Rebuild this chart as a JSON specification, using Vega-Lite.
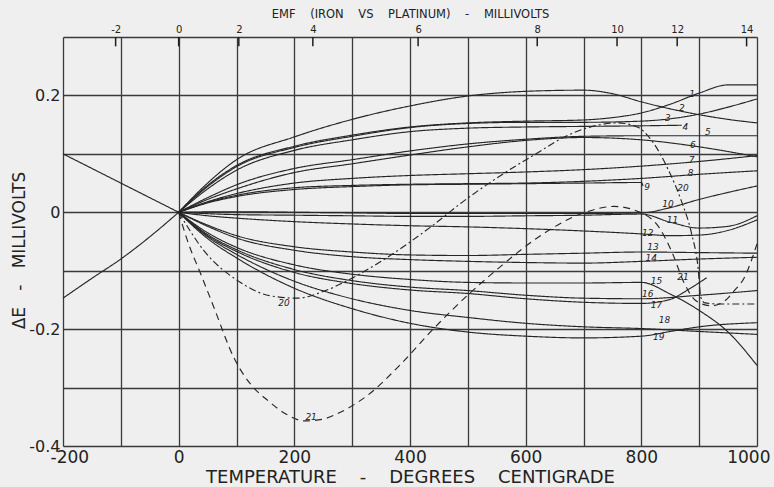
{
  "$schema": "https://vega.github.io/schema/vega-lite/v6.json",
  "width": 694,
  "height": 409,
  "autosize": {"type": "none"},
  "padding": {"left": 63, "top": 37, "right": 17, "bottom": 41},
  "background": "#efefef",
  "config": {"view": {"stroke": null}, "font": "DejaVu Sans"},
  "datasets": {
    "curves": [
      {"c":"L1","s":"solid","T":-200,"v":0.1},{"c":"L1","s":"solid","T":0,"v":0},
      {"c":"L2","s":"solid","T":-200,"v":-0.147},{"c":"L2","s":"solid","T":-150,"v":-0.113},{"c":"L2","s":"solid","T":-100,"v":-0.08},{"c":"L2","s":"solid","T":-50,"v":-0.042},{"c":"L2","s":"solid","T":0,"v":0},
      {"c":"1","s":"solid","T":0,"v":0},{"c":"1","s":"solid","T":50,"v":0.046},{"c":"1","s":"solid","T":100,"v":0.08},{"c":"1","s":"solid","T":200,"v":0.113},{"c":"1","s":"solid","T":300,"v":0.132},{"c":"1","s":"solid","T":400,"v":0.146},{"c":"1","s":"solid","T":500,"v":0.153},{"c":"1","s":"solid","T":600,"v":0.156},{"c":"1","s":"solid","T":700,"v":0.158},{"c":"1","s":"solid","T":750,"v":0.162},{"c":"1","s":"solid","T":800,"v":0.17},{"c":"1","s":"solid","T":850,"v":0.185},{"c":"1","s":"solid","T":900,"v":0.204},{"c":"1","s":"solid","T":950,"v":0.218},{"c":"1","s":"solid","T":1000,"v":0.218},
      {"c":"2","s":"solid","T":0,"v":0},{"c":"2","s":"solid","T":50,"v":0.05},{"c":"2","s":"solid","T":100,"v":0.09},{"c":"2","s":"solid","T":200,"v":0.129},{"c":"2","s":"solid","T":300,"v":0.159},{"c":"2","s":"solid","T":400,"v":0.182},{"c":"2","s":"solid","T":500,"v":0.199},{"c":"2","s":"solid","T":600,"v":0.207},{"c":"2","s":"solid","T":700,"v":0.209},{"c":"2","s":"solid","T":750,"v":0.203},{"c":"2","s":"solid","T":800,"v":0.189},{"c":"2","s":"solid","T":850,"v":0.177},{"c":"2","s":"solid","T":900,"v":0.167},{"c":"2","s":"solid","T":950,"v":0.159},{"c":"2","s":"solid","T":1000,"v":0.153},
      {"c":"3","s":"solid","T":0,"v":0},{"c":"3","s":"solid","T":50,"v":0.044},{"c":"3","s":"solid","T":100,"v":0.078},{"c":"3","s":"solid","T":200,"v":0.111},{"c":"3","s":"solid","T":300,"v":0.13},{"c":"3","s":"solid","T":400,"v":0.145},{"c":"3","s":"solid","T":500,"v":0.152},{"c":"3","s":"solid","T":600,"v":0.154},{"c":"3","s":"solid","T":700,"v":0.154},{"c":"3","s":"solid","T":800,"v":0.156},{"c":"3","s":"solid","T":850,"v":0.16},{"c":"3","s":"solid","T":900,"v":0.168},{"c":"3","s":"solid","T":950,"v":0.18},{"c":"3","s":"solid","T":1000,"v":0.194},
      {"c":"4","s":"solid","T":0,"v":0},{"c":"4","s":"solid","T":50,"v":0.04},{"c":"4","s":"solid","T":100,"v":0.072},{"c":"4","s":"solid","T":200,"v":0.106},{"c":"4","s":"solid","T":300,"v":0.124},{"c":"4","s":"solid","T":400,"v":0.138},{"c":"4","s":"solid","T":500,"v":0.144},{"c":"4","s":"solid","T":600,"v":0.146},{"c":"4","s":"solid","T":700,"v":0.147},{"c":"4","s":"solid","T":800,"v":0.148},{"c":"4","s":"solid","T":870,"v":0.149},
      {"c":"5","s":"solid","T":0,"v":0},{"c":"5","s":"solid","T":50,"v":0.025},{"c":"5","s":"solid","T":100,"v":0.047},{"c":"5","s":"solid","T":200,"v":0.075},{"c":"5","s":"solid","T":300,"v":0.09},{"c":"5","s":"solid","T":400,"v":0.105},{"c":"5","s":"solid","T":500,"v":0.117},{"c":"5","s":"solid","T":600,"v":0.125},{"c":"5","s":"solid","T":700,"v":0.13},{"c":"5","s":"solid","T":800,"v":0.131},{"c":"5","s":"solid","T":900,"v":0.131},{"c":"5","s":"solid","T":1000,"v":0.131},
      {"c":"6","s":"solid","T":0,"v":0},{"c":"6","s":"solid","T":50,"v":0.022},{"c":"6","s":"solid","T":100,"v":0.04},{"c":"6","s":"solid","T":200,"v":0.068},{"c":"6","s":"solid","T":300,"v":0.083},{"c":"6","s":"solid","T":400,"v":0.098},{"c":"6","s":"solid","T":500,"v":0.112},{"c":"6","s":"solid","T":600,"v":0.123},{"c":"6","s":"solid","T":700,"v":0.128},{"c":"6","s":"solid","T":750,"v":0.127},{"c":"6","s":"solid","T":800,"v":0.124},{"c":"6","s":"solid","T":900,"v":0.112},{"c":"6","s":"solid","T":1000,"v":0.095},
      {"c":"7","s":"solid","T":0,"v":0},{"c":"7","s":"solid","T":50,"v":0.018},{"c":"7","s":"solid","T":100,"v":0.032},{"c":"7","s":"solid","T":200,"v":0.05},{"c":"7","s":"solid","T":300,"v":0.058},{"c":"7","s":"solid","T":400,"v":0.063},{"c":"7","s":"solid","T":500,"v":0.066},{"c":"7","s":"solid","T":600,"v":0.069},{"c":"7","s":"solid","T":700,"v":0.073},{"c":"7","s":"solid","T":800,"v":0.079},{"c":"7","s":"solid","T":900,"v":0.087},{"c":"7","s":"solid","T":1000,"v":0.097},
      {"c":"8","s":"solid","T":0,"v":0},{"c":"8","s":"solid","T":50,"v":0.017},{"c":"8","s":"solid","T":100,"v":0.029},{"c":"8","s":"solid","T":200,"v":0.042},{"c":"8","s":"solid","T":300,"v":0.046},{"c":"8","s":"solid","T":400,"v":0.048},{"c":"8","s":"solid","T":500,"v":0.049},{"c":"8","s":"solid","T":600,"v":0.05},{"c":"8","s":"solid","T":700,"v":0.053},{"c":"8","s":"solid","T":800,"v":0.058},{"c":"8","s":"solid","T":900,"v":0.065},{"c":"8","s":"solid","T":1000,"v":0.071},
      {"c":"9","s":"solid","T":0,"v":0},{"c":"9","s":"solid","T":50,"v":0.016},{"c":"9","s":"solid","T":100,"v":0.027},{"c":"9","s":"solid","T":200,"v":0.039},{"c":"9","s":"solid","T":300,"v":0.044},{"c":"9","s":"solid","T":400,"v":0.047},{"c":"9","s":"solid","T":500,"v":0.048},{"c":"9","s":"solid","T":600,"v":0.049},{"c":"9","s":"solid","T":700,"v":0.05},{"c":"9","s":"solid","T":800,"v":0.051},{"c":"9","s":"solid","T":803,"v":0.045},
      {"c":"10","s":"solid","T":0,"v":0},{"c":"10","s":"solid","T":100,"v":0.001},{"c":"10","s":"solid","T":200,"v":0},{"c":"10","s":"solid","T":300,"v":-0.001},{"c":"10","s":"solid","T":400,"v":-0.002},{"c":"10","s":"solid","T":500,"v":-0.002},{"c":"10","s":"solid","T":600,"v":-0.002},{"c":"10","s":"solid","T":700,"v":-0.002},{"c":"10","s":"solid","T":800,"v":-0.001},{"c":"10","s":"solid","T":850,"v":0.008},{"c":"10","s":"solid","T":900,"v":0.022},{"c":"10","s":"solid","T":950,"v":0.034},{"c":"10","s":"solid","T":1000,"v":0.045},
      {"c":"11","s":"solid","T":0,"v":0},{"c":"11","s":"solid","T":100,"v":-0.004},{"c":"11","s":"solid","T":200,"v":-0.005},{"c":"11","s":"solid","T":300,"v":-0.006},{"c":"11","s":"solid","T":400,"v":-0.007},{"c":"11","s":"solid","T":500,"v":-0.007},{"c":"11","s":"solid","T":600,"v":-0.006},{"c":"11","s":"solid","T":700,"v":-0.005},{"c":"11","s":"solid","T":800,"v":-0.003},{"c":"11","s":"solid","T":850,"v":-0.017},{"c":"11","s":"solid","T":900,"v":-0.027},{"c":"11","s":"solid","T":950,"v":-0.024},{"c":"11","s":"solid","T":1000,"v":-0.006},
      {"c":"12","s":"solid","T":0,"v":0},{"c":"12","s":"solid","T":50,"v":-0.006},{"c":"12","s":"solid","T":100,"v":-0.01},{"c":"12","s":"solid","T":200,"v":-0.016},{"c":"12","s":"solid","T":300,"v":-0.02},{"c":"12","s":"solid","T":400,"v":-0.023},{"c":"12","s":"solid","T":500,"v":-0.025},{"c":"12","s":"solid","T":600,"v":-0.028},{"c":"12","s":"solid","T":700,"v":-0.032},{"c":"12","s":"solid","T":800,"v":-0.037},{"c":"12","s":"solid","T":850,"v":-0.04},{"c":"12","s":"solid","T":900,"v":-0.039},{"c":"12","s":"solid","T":950,"v":-0.031},{"c":"12","s":"solid","T":1000,"v":-0.013},
      {"c":"13","s":"solid","T":0,"v":0},{"c":"13","s":"solid","T":50,"v":-0.022},{"c":"13","s":"solid","T":100,"v":-0.04},{"c":"13","s":"solid","T":200,"v":-0.059},{"c":"13","s":"solid","T":300,"v":-0.068},{"c":"13","s":"solid","T":400,"v":-0.073},{"c":"13","s":"solid","T":500,"v":-0.074},{"c":"13","s":"solid","T":600,"v":-0.072},{"c":"13","s":"solid","T":700,"v":-0.07},{"c":"13","s":"solid","T":800,"v":-0.068},{"c":"13","s":"solid","T":900,"v":-0.069},{"c":"13","s":"solid","T":1000,"v":-0.07},
      {"c":"14","s":"solid","T":0,"v":0},{"c":"14","s":"solid","T":50,"v":-0.024},{"c":"14","s":"solid","T":100,"v":-0.044},{"c":"14","s":"solid","T":200,"v":-0.065},{"c":"14","s":"solid","T":300,"v":-0.076},{"c":"14","s":"solid","T":400,"v":-0.081},{"c":"14","s":"solid","T":500,"v":-0.084},{"c":"14","s":"solid","T":600,"v":-0.086},{"c":"14","s":"solid","T":700,"v":-0.087},{"c":"14","s":"solid","T":800,"v":-0.084},{"c":"14","s":"solid","T":900,"v":-0.08},{"c":"14","s":"solid","T":1000,"v":-0.077},
      {"c":"15","s":"solid","T":0,"v":0},{"c":"15","s":"solid","T":50,"v":-0.035},{"c":"15","s":"solid","T":100,"v":-0.06},{"c":"15","s":"solid","T":200,"v":-0.09},{"c":"15","s":"solid","T":300,"v":-0.106},{"c":"15","s":"solid","T":400,"v":-0.115},{"c":"15","s":"solid","T":500,"v":-0.12},{"c":"15","s":"solid","T":600,"v":-0.121},{"c":"15","s":"solid","T":700,"v":-0.121},{"c":"15","s":"solid","T":800,"v":-0.12},{"c":"15","s":"solid","T":850,"v":-0.14},{"c":"15","s":"solid","T":900,"v":-0.168},{"c":"15","s":"solid","T":950,"v":-0.205},{"c":"15","s":"solid","T":1000,"v":-0.262},
      {"c":"16","s":"solid","T":0,"v":0},{"c":"16","s":"solid","T":50,"v":-0.038},{"c":"16","s":"solid","T":100,"v":-0.064},{"c":"16","s":"solid","T":200,"v":-0.098},{"c":"16","s":"solid","T":300,"v":-0.117},{"c":"16","s":"solid","T":400,"v":-0.128},{"c":"16","s":"solid","T":500,"v":-0.134},{"c":"16","s":"solid","T":600,"v":-0.142},{"c":"16","s":"solid","T":700,"v":-0.147},{"c":"16","s":"solid","T":800,"v":-0.148},{"c":"16","s":"solid","T":900,"v":-0.142},{"c":"16","s":"solid","T":1000,"v":-0.134},
      {"c":"17","s":"solid","T":0,"v":0},{"c":"17","s":"solid","T":50,"v":-0.04},{"c":"17","s":"solid","T":100,"v":-0.067},{"c":"17","s":"solid","T":200,"v":-0.103},{"c":"17","s":"solid","T":300,"v":-0.122},{"c":"17","s":"solid","T":400,"v":-0.133},{"c":"17","s":"solid","T":500,"v":-0.139},{"c":"17","s":"solid","T":600,"v":-0.148},{"c":"17","s":"solid","T":700,"v":-0.154},{"c":"17","s":"solid","T":800,"v":-0.156},{"c":"17","s":"solid","T":850,"v":-0.149},{"c":"17","s":"solid","T":880,"v":-0.133},{"c":"17","s":"solid","T":913,"v":-0.112},
      {"c":"18","s":"solid","T":0,"v":0},{"c":"18","s":"solid","T":50,"v":-0.042},{"c":"18","s":"solid","T":100,"v":-0.072},{"c":"18","s":"solid","T":200,"v":-0.118},{"c":"18","s":"solid","T":300,"v":-0.148},{"c":"18","s":"solid","T":400,"v":-0.168},{"c":"18","s":"solid","T":500,"v":-0.18},{"c":"18","s":"solid","T":600,"v":-0.19},{"c":"18","s":"solid","T":700,"v":-0.196},{"c":"18","s":"solid","T":800,"v":-0.199},{"c":"18","s":"solid","T":900,"v":-0.204},{"c":"18","s":"solid","T":1000,"v":-0.209},
      {"c":"19","s":"solid","T":0,"v":0},{"c":"19","s":"solid","T":50,"v":-0.045},{"c":"19","s":"solid","T":100,"v":-0.078},{"c":"19","s":"solid","T":200,"v":-0.13},{"c":"19","s":"solid","T":300,"v":-0.165},{"c":"19","s":"solid","T":400,"v":-0.19},{"c":"19","s":"solid","T":500,"v":-0.205},{"c":"19","s":"solid","T":600,"v":-0.212},{"c":"19","s":"solid","T":700,"v":-0.215},{"c":"19","s":"solid","T":800,"v":-0.212},{"c":"19","s":"solid","T":850,"v":-0.204},{"c":"19","s":"solid","T":900,"v":-0.196},{"c":"19","s":"solid","T":1000,"v":-0.189},
      {"c":"20","s":"dashdot","T":0,"v":0},{"c":"20","s":"dashdot","T":44,"v":-0.066},{"c":"20","s":"dashdot","T":102,"v":-0.117},{"c":"20","s":"dashdot","T":159,"v":-0.143},{"c":"20","s":"dashdot","T":206,"v":-0.147},{"c":"20","s":"dashdot","T":246,"v":-0.137},{"c":"20","s":"dashdot","T":303,"v":-0.111},{"c":"20","s":"dashdot","T":361,"v":-0.077},{"c":"20","s":"dashdot","T":436,"v":-0.025},{"c":"20","s":"dashdot","T":494,"v":0.02},{"c":"20","s":"dashdot","T":563,"v":0.067},{"c":"20","s":"dashdot","T":621,"v":0.102},{"c":"20","s":"dashdot","T":665,"v":0.128},{"c":"20","s":"dashdot","T":708,"v":0.145},{"c":"20","s":"dashdot","T":760,"v":0.153},{"c":"20","s":"dashdot","T":795,"v":0.145},{"c":"20","s":"dashdot","T":817,"v":0.124},{"c":"20","s":"dashdot","T":847,"v":0.072},{"c":"20","s":"dashdot","T":869,"v":0.02},{"c":"20","s":"dashdot","T":887,"v":-0.037},{"c":"20","s":"dashdot","T":898,"v":-0.094},{"c":"20","s":"dashdot","T":903,"v":-0.146},{"c":"20","s":"dashdot","T":910,"v":-0.155},{"c":"20","s":"dashdot","T":933,"v":-0.157},{"c":"20","s":"dashdot","T":1000,"v":-0.157},
      {"c":"21","s":"dashed","T":0,"v":0},{"c":"21","s":"dashed","T":15,"v":-0.048},{"c":"21","s":"dashed","T":40,"v":-0.11},{"c":"21","s":"dashed","T":61,"v":-0.163},{"c":"21","s":"dashed","T":96,"v":-0.25},{"c":"21","s":"dashed","T":125,"v":-0.295},{"c":"21","s":"dashed","T":154,"v":-0.322},{"c":"21","s":"dashed","T":185,"v":-0.345},{"c":"21","s":"dashed","T":217,"v":-0.357},{"c":"21","s":"dashed","T":250,"v":-0.354},{"c":"21","s":"dashed","T":269,"v":-0.347},{"c":"21","s":"dashed","T":327,"v":-0.313},{"c":"21","s":"dashed","T":384,"v":-0.26},{"c":"21","s":"dashed","T":440,"v":-0.2},{"c":"21","s":"dashed","T":505,"v":-0.137},{"c":"21","s":"dashed","T":560,"v":-0.09},{"c":"21","s":"dashed","T":621,"v":-0.043},{"c":"21","s":"dashed","T":703,"v":0.0},{"c":"21","s":"dashed","T":753,"v":0.01},{"c":"21","s":"dashed","T":802,"v":-0.002},{"c":"21","s":"dashed","T":830,"v":-0.025},{"c":"21","s":"dashed","T":852,"v":-0.066},{"c":"21","s":"dashed","T":875,"v":-0.123},{"c":"21","s":"dashed","T":895,"v":-0.152},{"c":"21","s":"dashed","T":921,"v":-0.16},{"c":"21","s":"dashed","T":944,"v":-0.152},{"c":"21","s":"dashed","T":960,"v":-0.135},{"c":"21","s":"dashed","T":978,"v":-0.112},{"c":"21","s":"dashed","T":1000,"v":-0.054}
    ],
    "labels": [
      {"t":"1","T":888,"v":0.203},{"t":"2","T":870,"v":0.178},{"t":"3","T":846,"v":0.162},{"t":"4","T":876,"v":0.146},{"t":"5","T":915,"v":0.138},{"t":"6","T":889,"v":0.116},{"t":"7","T":887,"v":0.09},{"t":"8","T":885,"v":0.067},{"t":"9","T":810,"v":0.044},{"t":"10","T":846,"v":0.015},{"t":"11","T":854,"v":-0.013},{"t":"12","T":811,"v":-0.035},{"t":"13","T":820,"v":-0.06},{"t":"14","T":817,"v":-0.078},{"t":"15","T":826,"v":-0.118},{"t":"16","T":811,"v":-0.139},{"t":"17","T":826,"v":-0.159},{"t":"18","T":840,"v":-0.185},{"t":"19","T":830,"v":-0.214},{"t":"20","T":872,"v":0.041},{"t":"20","T":182,"v":-0.155},{"t":"21","T":872,"v":-0.11},{"t":"21","T":229,"v":-0.35}
    ],
    "emf": [
      {"mv":"-2","T":-109},{"mv":"0","T":0},{"mv":"2","T":104},{"mv":"4","T":232},{"mv":"6","T":414},{"mv":"8","T":620},{"mv":"10","T":758},{"mv":"12","T":862},{"mv":"14","T":982}
    ]
  },
  "resolve": {"axis": {"x": "independent"}},
  "layer": [
    {
      "data": {"name": "curves"},
      "mark": {"type": "line", "interpolate": "monotone", "strokeWidth": 1.15, "color": "#262626"},
      "encoding": {
        "x": {"field": "T", "type": "quantitative", "scale": {"domain": [-200, 1000], "nice": false, "zero": false},
          "axis": {"orient": "bottom", "values": [-200,-100,0,100,200,300,400,500,600,700,800,900,1000],
            "labelExpr": "datum.value % 200 == 0 ? '' + datum.value : ''",
            "ticks": false, "domain": false, "grid": true, "gridColor": "#3a3a3a", "gridWidth": 1.3,
            "labelFontSize": 17, "labelPadding": 3, "labelColor": "#222", "labelOverlap": false, "labelFlush": true, "labelFlushOffset": 13,
            "title": "TEMPERATURE\u00a0\u00a0\u00a0\u00a0-\u00a0\u00a0\u00a0\u00a0DEGREES\u00a0\u00a0\u00a0\u00a0CENTIGRADE", "titleFontSize": 18, "titleFontWeight": "normal", "titleColor": "#222", "titlePadding": 3}},
        "y": {"field": "v", "type": "quantitative", "scale": {"domain": [-0.4, 0.3], "nice": false, "zero": false},
          "axis": {"values": [-0.4,-0.3,-0.2,-0.1,0,0.1,0.2,0.3],
            "labelExpr": "datum.value == 0.2 ? '0.2' : datum.value == 0 ? '0' : datum.value == -0.2 ? '-0.2' : datum.value == -0.4 ? '-0.4' : ''",
            "ticks": false, "domain": false, "grid": true, "gridColor": "#3a3a3a", "gridWidth": 1.3,
            "labelFontSize": 16, "labelPadding": 3, "labelColor": "#222", "labelOverlap": false, "labelFlush": false,
            "title": "ΔE\u00a0\u00a0\u00a0-\u00a0\u00a0\u00a0MILLIVOLTS", "titleFontSize": 17, "titleFontWeight": "normal", "titleColor": "#222",
            "titleX": -44, "titleY": 213, "titleBaseline": "middle"}},
        "detail": {"field": "c", "type": "nominal"},
        "strokeDash": {"field": "s", "type": "nominal", "scale": {"domain": ["solid","dashdot","dashed"], "range": [[1,0],[7,3,2,3],[7,5]]}, "legend": null}
      }
    },
    {
      "data": {"name": "labels"},
      "mark": {"type": "text", "fontSize": 9, "fontStyle": "italic", "color": "#222", "align": "center", "baseline": "middle"},
      "encoding": {
        "x": {"field": "T", "type": "quantitative", "axis": null},
        "y": {"field": "v", "type": "quantitative"},
        "text": {"field": "t", "type": "nominal"}
      }
    },
    {
      "data": {"name": "emf"},
      "mark": {"type": "rule", "color": "#1e1e1e", "strokeWidth": 1.5},
      "encoding": {
        "x": {"field": "T", "type": "quantitative",
          "axis": {"orient": "top", "values": [-109,0,104,232,414,620,758,862,982],
            "labelExpr": "['-2','0','2','4','6','8','10','12','14'][indexof([-109,0,104,232,414,620,758,862,982], datum.value)]",
            "grid": false, "domain": false, "ticks": false,
            "labelFontSize": 10, "labelPadding": 3, "labelColor": "#222", "labelOverlap": false, "labelFlush": false,
            "title": "EMF\u00a0\u00a0\u00a0\u00a0(IRON\u00a0\u00a0\u00a0\u00a0VS\u00a0\u00a0\u00a0\u00a0PLATINUM)\u00a0\u00a0\u00a0\u00a0-\u00a0\u00a0\u00a0\u00a0MILLIVOLTS", "titleFontSize": 11.5, "titleFontWeight": "normal", "titleColor": "#222", "titlePadding": 5}},
        "y": {"datum": 0.3, "type": "quantitative"},
        "y2": {"datum": 0.284}
      }
    }
  ]
}
